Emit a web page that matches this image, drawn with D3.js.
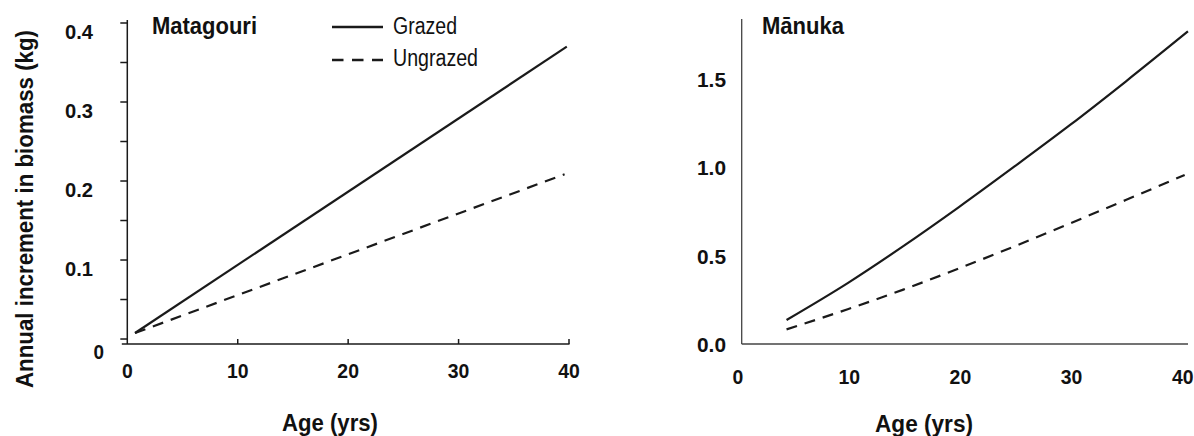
<!DOCTYPE html>
<html><head><meta charset="utf-8">
<script src="https://cdn.jsdelivr.net/npm/d3@7"></script>
<style>
html,body{margin:0;padding:0;background:#fff;}
svg{display:block;}
text{font-family:"Liberation Sans",Arial,sans-serif;fill:#111;}
</style></head>
<body><svg id="c" width="1194" height="436"></svg>
<script>
// ---- data ----
const matAges = [0.7, 39.8];
const matGrazed = [0.0076, 0.370];
const matUngrazedAges = [0.7, 39.6];
const matUngrazed = [0.0076, 0.2085];

const manAges = [4.5, 10, 15, 20, 25, 30, 35, 40.6];
const manGrazed = [0.136, 0.345, 0.554, 0.775, 1.005, 1.24, 1.486, 1.77];
const manUngrazedAges = [4.5, 10, 15, 20, 25, 30, 35, 40.3];
const manUngrazed = [0.083, 0.197, 0.308, 0.428, 0.553, 0.683, 0.815, 0.957];

const xTicks = [0, 10, 20, 30, 40];
const matYTicks = [0, 0.1, 0.2, 0.3, 0.4];
const matYMinor = [0.05, 0.15, 0.25, 0.35];
const manYTicks = [0, 0.5, 1.0, 1.5];
const seriesNames = ["Grazed", "Ungrazed"];
const titles = ["Matagouri", "M\u0101nuka"];
const xTitle = "Age (yrs)";
const yTitle = "Annual increment in biomass (kg)";

const svg = d3.select("#c");
const INK = "#1a1a1a";
const DASH = "11,8";

function fit(sel, w) { return sel.attr("textLength", w).attr("lengthAdjust", "spacingAndGlyphs"); }
const digitW = 10.8;

// ---------- Left panel ----------
const xL = d3.scaleLinear().domain([0, 40]).range([127.3, 569]);
const yL = d3.scaleLinear().domain([-0.0063, 0.4]).range([344, 23]);
const gL = svg.append("g");

gL.append("line").attr("x1", xL(0)).attr("x2", xL(0)).attr("y1", 20).attr("y2", 344)
  .attr("stroke", INK).attr("stroke-width", 1.5);
gL.append("line").attr("x1", xL(0) - 5.5).attr("x2", xL(40) + 0.5).attr("y1", 344).attr("y2", 344)
  .attr("stroke", INK).attr("stroke-width", 1.5);
gL.selectAll(".yt").data(matYTicks.concat(matYMinor)).enter().append("line")
  .attr("x1", xL(0) - 7).attr("x2", xL(0)).attr("y1", d => yL(d)).attr("y2", d => yL(d))
  .attr("stroke", INK).attr("stroke-width", 1.5);
gL.selectAll(".yl").data(matYTicks).enter().append("text")
  .attr("x", d => d === 0 ? 104 : 93).attr("y", d => yL(d) + (d === 0 ? 13 : 9))
  .attr("text-anchor", "end").attr("dominant-baseline", "central")
  .attr("font-size", 20).attr("font-weight", "bold")
  .text(d => d === 0 ? "0" : d3.format(".1f")(d))
  .each(function(d){ fit(d3.select(this), d === 0 ? 10.5 : 28); });
gL.selectAll(".xt").data(xTicks.slice(1)).enter().append("line")
  .attr("x1", d => xL(d)).attr("x2", d => xL(d)).attr("y1", 344).attr("y2", 339)
  .attr("stroke", INK).attr("stroke-width", 1.5);
gL.selectAll(".xl").data(xTicks).enter().append("text")
  .attr("x", d => xL(d)).attr("y", 370).attr("text-anchor", "middle").attr("dominant-baseline", "central")
  .attr("font-size", 21).attr("font-weight", "bold").text(d => d)
  .each(function(d){ fit(d3.select(this), String(d).length * digitW); });
fit(gL.append("text").attr("x", 282).attr("y", 423).attr("dominant-baseline", "central")
  .attr("font-size", 23).attr("font-weight", "bold").text(xTitle), 96);
fit(gL.append("text").attr("transform", "translate(25,388) rotate(-90)")
  .attr("dominant-baseline", "central").attr("font-size", 23).attr("font-weight", "bold")
  .text(yTitle), 358);
fit(gL.append("text").attr("x", 152).attr("y", 25).attr("dominant-baseline", "central")
  .attr("font-size", 24).attr("font-weight", "bold").text(titles[0]), 105);

const lineL = d3.line().x(d => xL(d[0])).y(d => yL(d[1]));
gL.append("path").datum(d3.zip(matAges, matGrazed)).attr("d", lineL)
  .attr("fill", "none").attr("stroke", INK).attr("stroke-width", 2.2);
gL.append("path").datum(d3.zip(matUngrazedAges, matUngrazed)).attr("d", lineL)
  .attr("fill", "none").attr("stroke", INK).attr("stroke-width", 2.2).attr("stroke-dasharray", DASH);

// legend
const leg = svg.append("g");
const legW = [64, 85];
seriesNames.forEach((name, i) => {
  const y = i === 0 ? 27 : 60;
  leg.append("line").attr("x1", 332).attr("x2", 383).attr("y1", y).attr("y2", y)
    .attr("stroke", INK).attr("stroke-width", 2.4)
    .attr("stroke-dasharray", i === 0 ? null : "11.5,8.5");
  fit(leg.append("text").attr("x", 393).attr("y", i === 0 ? 26 : 58).attr("dominant-baseline", "central")
    .attr("font-size", 23).text(name), legW[i]);
});

// ---------- Right panel ----------
const xR = d3.scaleLinear().domain([0, 40.6]).range([736.5, 1188]);
const yR = d3.scaleLinear().domain([0, 1.84]).range([344, 19]);
const gR = svg.append("g");
gR.append("line").attr("x1", 741.7).attr("x2", 741.7).attr("y1", yR(1.84)).attr("y2", 344)
  .attr("stroke", "#444").attr("stroke-width", 1.3);
gR.append("line").attr("x1", 741.7).attr("x2", xR(40.6)).attr("y1", 344).attr("y2", 344)
  .attr("stroke", "#444").attr("stroke-width", 1.5);
gR.selectAll(".yl").data(manYTicks).enter().append("text")
  .attr("x", 726).attr("y", d => yR(d) + 1).attr("text-anchor", "end").attr("dominant-baseline", "central")
  .attr("font-size", 20).attr("font-weight", "bold").text(d => d3.format(".1f")(d))
  .each(function(){ fit(d3.select(this), 29); });
gR.selectAll(".xl").data(xTicks).enter().append("text")
  .attr("x", d => xR(d) + 1.5).attr("y", 377).attr("text-anchor", "middle").attr("dominant-baseline", "central")
  .attr("font-size", 20).attr("font-weight", "bold").text(d => d)
  .each(function(d){ fit(d3.select(this), String(d).length * digitW); });
fit(gR.append("text").attr("x", 875).attr("y", 424).attr("dominant-baseline", "central")
  .attr("font-size", 23).attr("font-weight", "bold").text(xTitle), 98);
fit(gR.append("text").attr("x", 762).attr("y", 25).attr("dominant-baseline", "central")
  .attr("font-size", 24).attr("font-weight", "bold").text(titles[1]), 82);

const lineR = d3.line().x(d => xR(d[0])).y(d => yR(d[1])).curve(d3.curveMonotoneX);
gR.append("path").datum(d3.zip(manAges, manGrazed)).attr("d", lineR)
  .attr("fill", "none").attr("stroke", INK).attr("stroke-width", 2.2);
gR.append("path").datum(d3.zip(manUngrazedAges, manUngrazed)).attr("d", lineR)
  .attr("fill", "none").attr("stroke", INK).attr("stroke-width", 2.2).attr("stroke-dasharray", DASH);
</script></body></html>
